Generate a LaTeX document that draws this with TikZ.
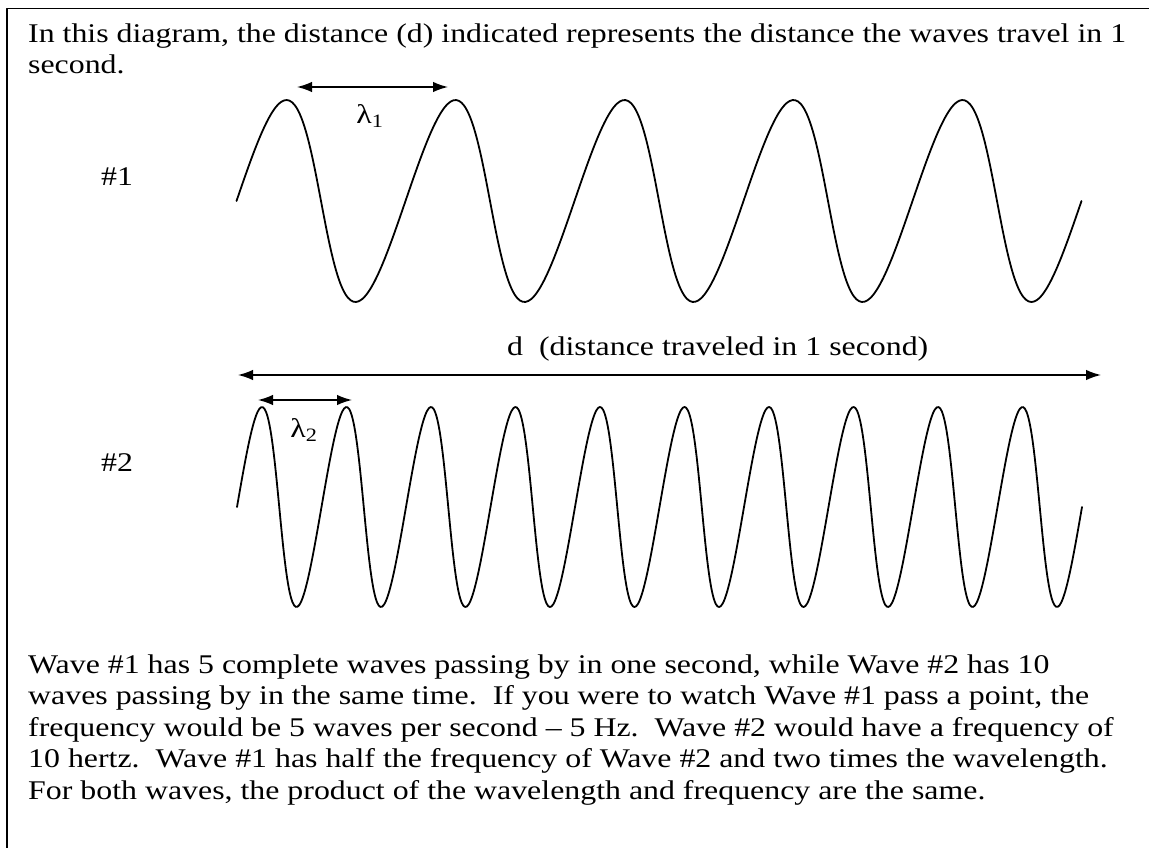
\documentclass[tikz,border=0pt]{standalone}
\usepackage{fontspec}
\setmainfont[FakeStretch=1.18]{Liberation Serif}
\usepackage{tikz}
\usetikzlibrary{arrows.meta}

\begin{document}
\begin{tikzpicture}[x=1pt, y=-1pt, line cap=round, line join=round,
    txt/.style={anchor=base west, inner sep=0pt, font=\fontsize{27}{31.6}\selectfont},
    lbl/.style={inner sep=0pt, font=\fontsize{27}{31.6}\selectfont},
    dimarrow/.style={line width=1.5pt, {Latex[length=15pt,width=10.5pt]}-{Latex[length=15pt,width=10.5pt]}},
    wave/.style={line width=1.8pt, smooth}]

    \useasboundingbox (0,0) rectangle (1149,848);

    %====================
    % 1) frame (open on the right and at the bottom)
    %====================
    \draw[line width=1.6pt, line cap=butt] (1149,8.5) -- (7,8.5) -- (7,848);

    %====================
    % 2) text above the waves
    %====================
    \node[txt] (top1) at (28,43) {In this diagram, the distance (d) indicated represents the distance the waves travel in 1};
    \node[txt] (top2) at (28,74) {second.};

    %====================
    % 3) the two waves (rise takes longer than the fall)
    %====================
    \def\skw{0.046} % skew of the wave shape
    \def\lamA{169}  % wavelength of wave #1
    \def\lamB{84.5} % wavelength of wave #2

    \draw[wave] plot[domain=0:1800, samples=300, variable=\t]
        ({236.5+\lamA*(\t/360+\skw*sin(\t))}, {201-101*sin(\t)});
    \draw[wave] plot[domain=0:3600, samples=500, variable=\t]
        ({237+\lamB*(\t/360+\skw*sin(\t))}, {507-100*sin(\t)});

    \node[lbl] (n1) at (117,177) {\#1};
    \node[lbl] (n2) at (117,463) {\#2};

    %====================
    % 4) wavelength arrows
    %====================
    \coordinate (L1a) at (297,87);
    \coordinate (L1b) at (448,87);
    \draw[dimarrow] (L1a) -- (L1b);
    \node[lbl] (lam1) at (370,116) {λ\textsubscript{1}};

    \coordinate (L2a) at (258,400);
    \coordinate (L2b) at (352,400);
    \draw[dimarrow] (L2a) -- (L2b);
    \node[lbl] (lam2) at (304,430) {λ\textsubscript{2}};

    %====================
    % 5) distance arrow d
    %====================
    \coordinate (Da) at (238,375);
    \coordinate (Db) at (1101,375);
    \draw[dimarrow] (Da) -- (Db);
    \node[txt] (dlab) at (507,355) {d\ \ (distance traveled in 1 second)};

    %====================
    % 6) text below the waves
    %====================
    \node[txt] (bot1) at (28,673)   {Wave \#1 has 5 complete waves passing by in one second, while Wave \#2 has 10};
    \node[txt] (bot2) at (28,704.6) {waves passing by in the same time.\ \ If you were to watch Wave \#1 pass a point, the};
    \node[txt] (bot3) at (28,736.2) {frequency would be 5 waves per second -- 5 Hz.\ \ Wave \#2 would have a frequency of};
    \node[txt] (bot4) at (28,767.8) {10 hertz.\ \ Wave \#1 has half the frequency of Wave \#2 and two times the wavelength.};
    \node[txt] (bot5) at (28,799.4) {For both waves, the product of the wavelength and frequency are the same.};

\end{tikzpicture}
\end{document}
